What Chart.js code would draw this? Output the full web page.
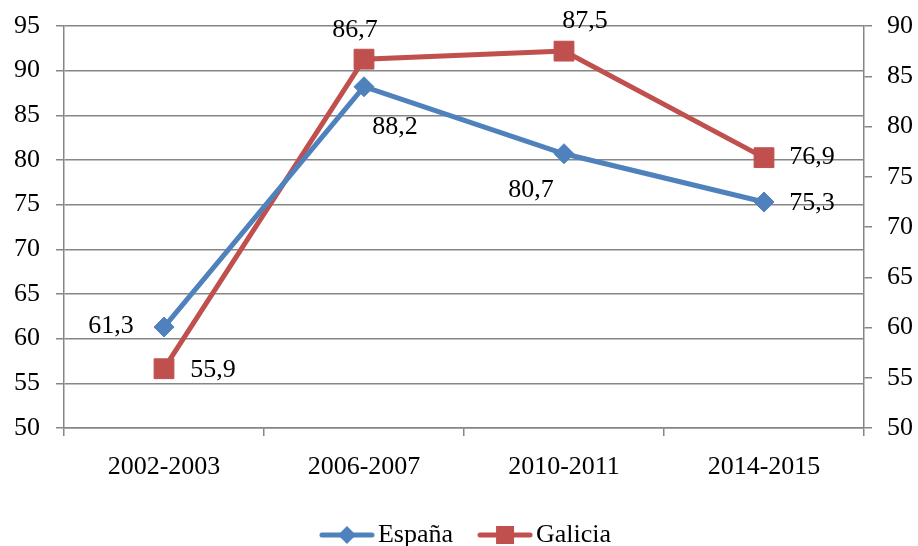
<!DOCTYPE html>
<html>
<head>
<meta charset="utf-8">
<script src="https://cdn.jsdelivr.net/npm/chart.js@4/dist/chart.umd.min.js"></script>
<style>
  html, body { margin: 0; padding: 0; background: #fff; }
  #wrap { width: 918px; height: 546px; }
</style>
</head>
<body>
<div id="wrap"><canvas id="grafico"></canvas></div>
<script>
// datos
const cursos = ["2002-2003", "2006-2007", "2010-2011", "2014-2015"];
const espana = [61.3, 88.2, 80.7, 75.3];
const galicia = [55.9, 86.7, 87.5, 76.9];
const ticksIzq = [50, 55, 60, 65, 70, 75, 80, 85, 90, 95];
const ticksDer = [50, 55, 60, 65, 70, 75, 80, 85, 90];

const AZUL = "#4F81BD";
const ROJO = "#C0504D";
const GRIS = "#868686";
const FUENTE = "'Liberation Serif', 'Times New Roman', serif";
const TAM = 26;

// desplazamiento de cada etiqueta respecto a su punto (px)
const posEspana = [[-53, -1], [31, 40], [-33, 36], [48, 1]];
const posGalicia = [[49, 1], [-9, -29], [21, -30], [48, 0]];

// icono de leyenda: linea con marcador
function iconoLeyenda(color, forma) {
  const c = document.createElement("canvas");
  c.width = 56; c.height = 22;
  const g = c.getContext("2d");
  g.strokeStyle = color;
  g.lineWidth = 5;
  g.lineCap = "round";
  g.beginPath(); g.moveTo(3, 11); g.lineTo(53, 11); g.stroke();
  g.fillStyle = color;
  g.beginPath();
  if (forma === "rombo") {
    g.moveTo(28, 2); g.lineTo(37, 11); g.lineTo(28, 20); g.lineTo(19, 11);
  } else {
    g.rect(19, 2, 18, 18);
  }
  g.closePath(); g.fill();
  return c;
}

const etiquetas = {
  id: "etiquetas",
  afterLayout(chart) {
    // la leyenda del original esta algo a la derecha del centro
    chart.legend.left += 11;
    chart.legend.right += 11;
  },
  afterDatasetsDraw(chart) {
    const ctx = chart.ctx;
    ctx.save();
    ctx.font = TAM + "px " + FUENTE;
    ctx.fillStyle = "#000";
    ctx.textAlign = "center";
    ctx.textBaseline = "middle";
    const posiciones = [posEspana, posGalicia];
    chart.data.datasets.forEach((ds, i) => {
      chart.getDatasetMeta(i).data.forEach((p, j) => {
        const txt = ds.data[j].toFixed(1).replace(".", ",");
        ctx.fillText(txt, p.x + posiciones[i][j][0], p.y + posiciones[i][j][1]);
      });
    });
    ctx.restore();
  }
};

const sinPadding = s => { s.paddingTop = 0; s.paddingBottom = 0; };

const ctx = document.getElementById("grafico").getContext("2d");
new Chart(ctx, {
  type: "line",
  data: {
    labels: cursos,
    datasets: [{
      label: "España",
      data: espana,
      yAxisID: "y",
      borderColor: AZUL,
      backgroundColor: AZUL,
      borderWidth: 5,
      pointStyle: "rectRot",
      pointRadius: 10,
      pointBorderWidth: 1,
      tension: 0
    }, {
      label: "Galicia",
      data: galicia,
      yAxisID: "y2",
      borderColor: ROJO,
      backgroundColor: ROJO,
      borderWidth: 5,
      pointStyle: "rect",
      pointRadius: 14,
      pointBorderWidth: 1,
      tension: 0
    }]
  },
  options: {
    responsive: true,
    maintainAspectRatio: false,
    animation: false,
    events: [],
    layout: { padding: { top: 26, left: 0, right: 0, bottom: -12 } },
    scales: {
      x: {
        offset: true,
        grid: { drawOnChartArea: false, drawTicks: true, tickLength: 8, color: GRIS, lineWidth: 1.5, offset: true },
        border: { color: GRIS, width: 1.5 },
        ticks: { color: "#000", font: { family: FUENTE, size: TAM }, padding: 16, maxRotation: 0 },
        afterFit(s) { s.height = 60; }
      },
      y: {
        position: "left",
        min: 50, max: 95,
        afterBuildTicks(s) { s.ticks = ticksIzq.map(v => ({ value: v })); },
        grid: { color: GRIS, lineWidth: 1.5, tickLength: 8 },
        border: { color: GRIS, width: 1.5 },
        ticks: { color: "#000", font: { family: FUENTE, size: TAM }, padding: 16 },
        afterFit(s) { s.width = 64; sinPadding(s); }
      },
      y2: {
        position: "right",
        min: 50, max: 90,
        afterBuildTicks(s) { s.ticks = ticksDer.map(v => ({ value: v })); },
        grid: { drawOnChartArea: false, color: GRIS, lineWidth: 1.5, tickLength: 8 },
        border: { color: GRIS, width: 1.5 },
        ticks: { color: "#000", font: { family: FUENTE, size: TAM }, padding: 15 },
        afterFit(s) { s.width = 54; sinPadding(s); }
      }
    },
    plugins: {
      tooltip: { enabled: false },
      legend: {
        position: "bottom",
        labels: {
          color: "#000",
          font: { family: FUENTE, size: TAM },
          usePointStyle: true,
          pointStyleWidth: 36,
          padding: 34,
          generateLabels(chart) {
            return chart.data.datasets.map((ds, i) => ({
              text: ds.label,
              fillStyle: ds.borderColor,
              strokeStyle: ds.borderColor,
              pointStyle: iconoLeyenda(ds.borderColor, i === 0 ? "rombo" : "cuadro"),
              datasetIndex: i,
              hidden: false,
              lineWidth: 0
            }));
          }
        }
      }
    }
  },
  plugins: [etiquetas]
});
</script>
</body>
</html>
